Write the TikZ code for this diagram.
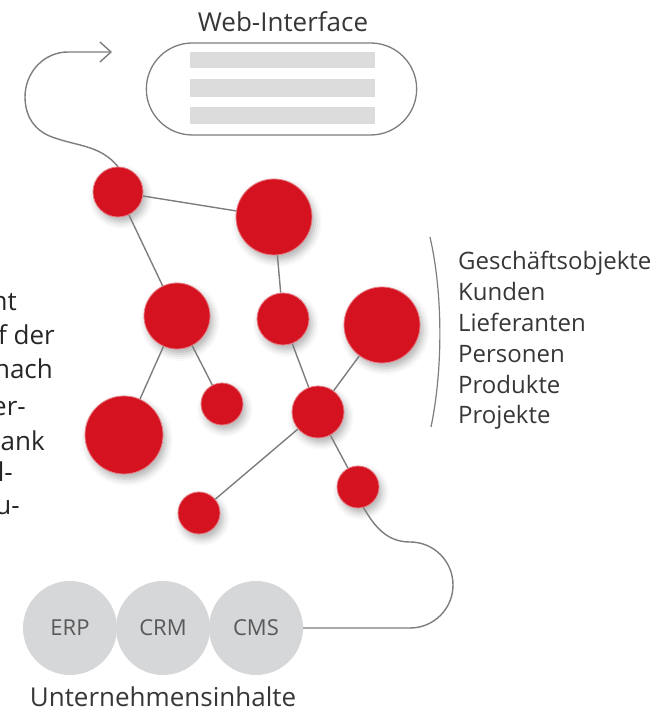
\documentclass[tikz,border=0pt]{standalone}
\usepackage{fontspec}
\setmainfont{Open Sans}
\usetikzlibrary{arrows.meta, shapes.misc, shadows.blur}
\definecolor{objred}{RGB}{212,18,32}
\definecolor{linegray}{RGB}{125,125,125}
\definecolor{bargray}{RGB}{220,220,220}
\definecolor{srcgray}{RGB}{214,215,217}
\definecolor{textgray}{RGB}{55,55,55}
\tikzset{>={Straight Barb[length=11pt, width=20pt]},
    obj/.style = {circle, fill=objred, inner sep=0pt, draw=objred!55!white, line width=0.8pt,
        blur shadow={shadow xshift=3pt, shadow yshift=-5pt, shadow blur radius=7pt, shadow opacity=30}},
    link/.style = {draw=linegray, line width=1.4pt},
    src/.style = {circle, fill=srcgray, minimum size=94pt, inner sep=0pt, text=black!65, font=\fontsize{22}{26}\selectfont},
    lbl/.style = {inner sep=0pt, text=textgray, font=\fontsize{24}{30}\selectfont}}

\begin{document}
\begin{tikzpicture}[x=1pt, y=1pt]
    \useasboundingbox (0,0) rectangle (659,714);
    \node[lbl, font=\fontsize{26}{30}\selectfont, anchor=base] (webtitle) at (283,682) {Web-Interface};
    \node[rounded rectangle, draw=linegray, line width=1.3pt, minimum width=277pt, minimum height=92pt] (web) at (281.5,625) {};
    \foreach \y/\h in {654/16, 626/18, 598.5/17}
        \fill[bargray] (190,\y-\h/2) rectangle (375,\y+\h/2);
    \foreach \n/\x/\y/\r in {o1/118/522/25, o2/274/497/38, o3/177/398/33, o4/283/395/26, o5/382/389/38,
                             o6/124/279/39, o7/222/310/21, o8/318/302/26, o9/358/227/21, o10/199/201/21}
        \node[obj, minimum size=2*\r] (\n) at (\x,\y) {};
    \foreach \a/\b in {o1/o2, o1/o3, o2/o4, o3/o6, o3/o7, o4/o8, o5/o8, o8/o10, o8/o9}
        \draw[link] (\a) -- (\b);
    \coordinate (webin) at (112,662);
    \draw[link, ->] (o1.north) to[out=130, in=-20] (52,577) to[out=160, in=-90] (25,617)
        to[out=90, in=180] (68,662) -- (webin);
    \draw[linegray, line width=1.2pt] (430,477) .. controls (443,420) and (443,345) .. (431,287);
    \foreach \t [count=\i from 0] in {Geschäftsobjekte, Kunden, Lieferanten, Personen, Produkte, Projekte}
        \node[lbl, anchor=base west] (item\i) at (458,444-30.8*\i) {\t};
    \foreach \t/\x/\y [count=\i] in {nt/17/403, f der/55/369, nach/53/335, er-/26/298, ank/45/263, l-/13/232, u-/20/199}
        \node[lbl, font=\fontsize{26}{34}\selectfont, text=black!85, anchor=base east] (frag\i) at (\x,\y) {\t};
    \foreach \n/\t/\x in {erp/ERP/70, crm/CRM/163, cms/CMS/256}
        \node[src] (\n) at (\x,86) {\t};
    \node[lbl, font=\fontsize{26}{30}\selectfont, anchor=base] (units) at (163,7) {Unternehmensinhalte};
    \draw[link] (o9.-75) to[out=-60, in=180] (410,172) to[out=0, in=90] (453,129)
        to[out=-90, in=0] (410,86) -- (cms.east);
\end{tikzpicture}
\end{document}
